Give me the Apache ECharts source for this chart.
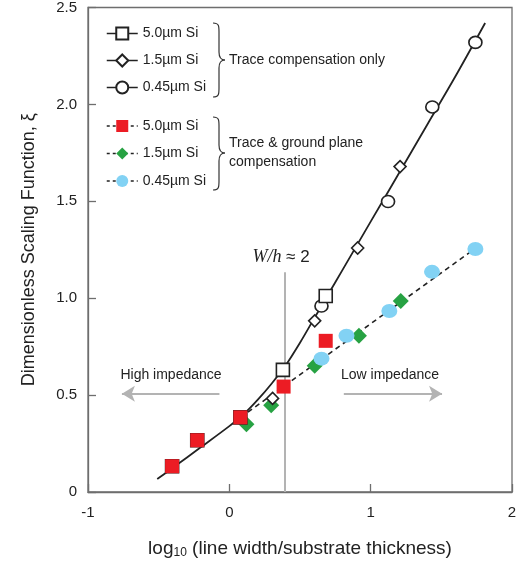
<!DOCTYPE html>
<html>
<head>
<meta charset="utf-8">
<script src="https://cdn.jsdelivr.net/npm/echarts@6/dist/echarts.min.js"></script>
<style>
html,body{margin:0;padding:0;background:#fff;}
#chart{width:523px;height:564px;}
</style>
</head>
<body>
<div id="chart"></div>
<script>
// ---- data ----
const xTicks = [-1, 0, 1, 2];
const yTicks = [0, 0.5, 1.0, 1.5, 2.0, 2.5];

// Trace compensation only (hollow markers)
const tSq_x = [-0.405, -0.227, 0.078, 0.379, 0.682];
const tSq_y = [0.133, 0.267, 0.385, 0.630, 1.011];
const tDi_x = [0.306, 0.604, 0.908, 1.208];
const tDi_y = [0.483, 0.883, 1.259, 1.679];
const tCi_x = [0.652, 1.123, 1.436, 1.741];
const tCi_y = [0.960, 1.499, 1.987, 2.320];

// Trace & ground plane compensation (filled markers)
const gSq_x = [-0.405, -0.227, 0.078, 0.384, 0.682];
const gSq_y = [0.133, 0.267, 0.385, 0.544, 0.780];
const gDi_x = [0.121, 0.296, 0.604, 0.917, 1.213];
const gDi_y = [0.349, 0.447, 0.652, 0.806, 0.986];
const gCi_x = [0.652, 0.829, 1.132, 1.434, 1.741];
const gCi_y = [0.688, 0.806, 0.934, 1.136, 1.254];

// fitted trend curves
const fitSolid_x = [-0.51, -0.4, -0.2, 0, 0.1, 0.2, 0.3, 0.4, 0.5, 0.6, 0.7, 0.8, 1.0, 1.2, 1.4, 1.6, 1.81];
const fitSolid_y = [0.067, 0.125, 0.232, 0.34, 0.40, 0.475, 0.56, 0.655, 0.77, 0.895, 1.02, 1.145, 1.395, 1.645, 1.895, 2.145, 2.42];
const fitDash_x = [0.08, 1.75];
const fitDash_y = [0.385, 1.262];

const legendNames = ['5.0µm Si', '1.5µm Si', '0.45µm Si'];
const groupLabels = ['Trace compensation only', 'Trace & ground plane\ncompensation'];

// annotation positions (data units)
const threshold_x = 0.39, threshold_top = 1.134;
const arrow_y = 0.507;
const highArrow = [-0.07, -0.76];
const lowArrow = [0.81, 1.505];

const zip = (a, b) => a.map((v, i) => [v, b[i]]);
const FONT = '"Liberation Sans Narrow", "Liberation Sans", Arial, sans-serif';
const INK = '#222';
const TXT = 14;

const chart = echarts.init(document.getElementById('chart'), null, {renderer: 'canvas'});

function markerSeries(name, xs, ys, symbol, size, fill, border, z, lineType) {
  return {
    name: name, type: 'line', data: zip(xs, ys), z: z,
    symbol: symbol, symbolSize: size, showSymbol: true,
    lineStyle: {opacity: 0, width: 1.5, color: INK, type: lineType},
    itemStyle: {color: fill, borderColor: border === 'none' ? fill : border, borderWidth: border === 'none' ? 0 : 1.6, opacity: 1},
    emphasis: {disabled: true}, animation: false
  };
}

// curly brace built from bezier pieces
function brace(x0, xt, y0, ym, y1) {
  const xm = x0 + 6;
  const st = {stroke: '#333', lineWidth: 1.2, fill: null};
  const bz = (a, b, c, d) => ({type: 'bezierCurve', silent: true, style: st,
    shape: {x1: a[0], y1: a[1], cpx1: b[0], cpy1: b[1], cpx2: c[0], cpy2: c[1], x2: d[0], y2: d[1]}});
  const ln = (a, b) => ({type: 'line', silent: true, style: st, shape: {x1: a[0], y1: a[1], x2: b[0], y2: b[1]}});
  return [
    bz([x0, y0], [xm, y0], [xm, y0 + 3], [xm, y0 + 9]),
    ln([xm, y0 + 9], [xm, ym - 8]),
    bz([xm, ym - 8], [xm, ym - 3], [xm + 2, ym], [xt, ym]),
    bz([xt, ym], [xm + 2, ym], [xm, ym + 3], [xm, ym + 8]),
    ln([xm, ym + 8], [xm, y1 - 9]),
    bz([xm, y1 - 9], [xm, y1 - 3], [xm, y1], [x0, y1])
  ];
}

const option = {
  animation: false,
  grid: {left: 88, right: 11, top: 5, bottom: 72, show: true, borderColor: '#6e6e6e', borderWidth: 1.3},
  xAxis: {
    type: 'value', min: xTicks[0], max: xTicks[xTicks.length - 1], interval: 1,
    axisLine: {onZero: false, lineStyle: {color: '#6e6e6e', width: 1.3}},
    axisTick: {inside: true, length: 8, lineStyle: {color: '#6e6e6e', width: 1.3}},
    splitLine: {show: false},
    axisLabel: {color: INK, fontSize: TXT + 1, fontFamily: FONT, margin: 13},
    name: 'log{sub|10} (line width/substrate thickness)',
    nameLocation: 'middle', nameGap: 46,
    nameTextStyle: {color: INK, fontSize: 19, fontFamily: FONT,
      rich: {sub: {fontSize: 12, fontFamily: FONT, color: INK, verticalAlign: 'bottom', padding: [9, 0, 0, 0]}}}
  },
  yAxis: {
    type: 'value', min: yTicks[0], max: yTicks[yTicks.length - 1], interval: 0.5,
    axisLine: {show: true, onZero: false, lineStyle: {color: '#6e6e6e', width: 1.3}},
    axisTick: {show: true, inside: true, length: 8, lineStyle: {color: '#6e6e6e', width: 1.3}},
    splitLine: {show: false},
    axisLabel: {color: INK, fontSize: TXT + 1, fontFamily: FONT, margin: 11,
      formatter: v => v === 0 ? '0' : v.toFixed(1)},
    name: 'Dimensionless Scaling Function, ξ',
    nameLocation: 'middle', nameGap: 50,
    nameTextStyle: {color: INK, fontSize: 18, fontFamily: FONT}
  },
  legend: [
    {
      data: legendNames.map(n => n + ' (t)'),
      formatter: n => n.split(' (')[0],
      orient: 'vertical', left: 106, top: 26.5, padding: 0, itemWidth: 31, itemHeight: 15, itemGap: 13,
      itemTextGap: 5, selectedMode: false,
      textStyle: {color: INK, fontSize: TXT, fontFamily: FONT},
      lineStyle: {opacity: 1, color: INK, width: 1.5, type: 'solid'}
    },
    {
      data: legendNames.map(n => n + ' (g)'),
      formatter: n => n.split(' (')[0],
      orient: 'vertical', left: 106, top: 119, padding: 0, itemWidth: 31, itemHeight: 15, itemGap: 13.5,
      itemTextGap: 5, selectedMode: false,
      textStyle: {color: INK, fontSize: TXT, fontFamily: FONT},
      lineStyle: {opacity: 1, color: INK, width: 1.5, type: [3, 3]}
    }
  ],
  series: [
    {
      name: 'annotations', type: 'line', data: [], z: 1, silent: true,
      markLine: {
        silent: true, animation: false, label: {show: false},
        lineStyle: {color: '#b3b3b3', width: 2, type: 'solid'},
        symbolSize: [12, 13],
        data: [
          [{coord: [threshold_x, 0], symbol: 'none'}, {coord: [threshold_x, threshold_top], symbol: 'none'}],
          [{coord: [highArrow[0], arrow_y], symbol: 'none'}, {coord: [highArrow[1], arrow_y], symbol: 'arrow'}],
          [{coord: [lowArrow[0], arrow_y], symbol: 'none'}, {coord: [lowArrow[1], arrow_y], symbol: 'arrow'}]
        ]
      }
    },
    {
      name: 'fit-solid', type: 'line', data: zip(fitSolid_x, fitSolid_y), smooth: 0.3,
      symbol: 'none', z: 2, lineStyle: {color: INK, width: 1.8}, silent: true
    },
    {
      name: 'fit-dash', type: 'line', data: zip(fitDash_x, fitDash_y),
      symbol: 'none', z: 2, lineStyle: {color: INK, width: 1.6, type: [5, 4]}, silent: true
    },
    markerSeries('1.5µm Si (g)', gDi_x, gDi_y, 'diamond', 16, '#27a243', 'none', 3, [3, 3]),
    markerSeries('0.45µm Si (g)', gCi_x, gCi_y, 'circle', [16, 14], '#82d2f4', 'none', 4, [3, 3]),
    markerSeries('1.5µm Si (t)', tDi_x, tDi_y, 'diamond', 12, '#ffffff', INK, 5, 'solid'),
    markerSeries('0.45µm Si (t)', tCi_x, tCi_y, 'circle', [13, 12], '#ffffff', INK, 6, 'solid'),
    markerSeries('5.0µm Si (t)', tSq_x, tSq_y, 'rect', 13, '#ffffff', INK, 7, 'solid'),
    markerSeries('5.0µm Si (g)', gSq_x, gSq_y, 'rect', 14, '#ec1c24', 'none', 8, [3, 3])
  ],
  graphic: [].concat(
    brace(213, 225, 23, 60, 97),
    brace(213, 225, 117, 153, 190),
    [
      {type: 'text', x: 229, y: 60, silent: true,
        style: {text: groupLabels[0], fill: INK, fontSize: TXT, fontFamily: FONT, verticalAlign: 'middle'}},
      {type: 'text', x: 229, y: 152.5, silent: true,
        style: {text: groupLabels[1], fill: INK, fontSize: TXT, fontFamily: FONT, lineHeight: 19.6, verticalAlign: 'middle'}},
      {type: 'text', x: 281, y: 257, silent: true,
        style: {text: '{it|W/h} ≈ 2', fill: INK, fontSize: 17, fontFamily: FONT, align: 'center', verticalAlign: 'middle',
          rich: {it: {fontStyle: 'italic', fontFamily: '"Liberation Serif", serif', fontSize: 18, fill: INK}}}},
      {type: 'text', x: 171, y: 375, silent: true,
        style: {text: 'High impedance', fill: INK, fontSize: TXT, fontFamily: FONT, align: 'center', verticalAlign: 'middle'}},
      {type: 'text', x: 390, y: 375, silent: true,
        style: {text: 'Low impedance', fill: INK, fontSize: TXT, fontFamily: FONT, align: 'center', verticalAlign: 'middle'}}
    ]
  )
};
chart.setOption(option);
</script>
</body>
</html>
